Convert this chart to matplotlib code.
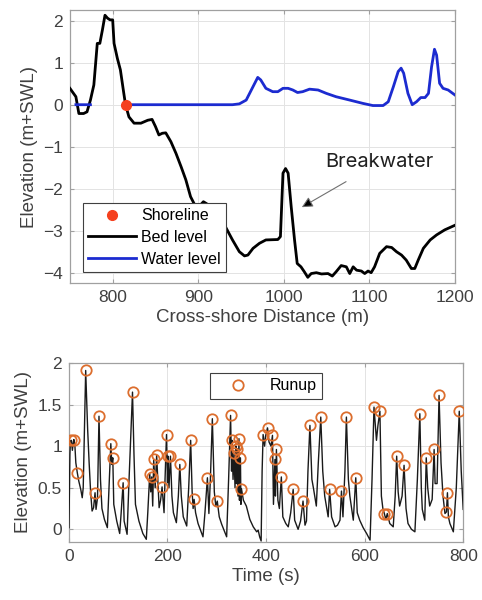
import numpy as np
import matplotlib
matplotlib.use('Agg')
import matplotlib.pyplot as plt

plt.rcParams['font.family'] = ['Liberation Sans', 'DejaVu Sans']

# cross-shore profile (top panel)
bed_x = [750, 757, 760.5, 766, 770, 774, 778, 782, 785, 788, 791, 794, 797, 800,
         801.6, 805.5, 809, 813, 815, 819, 825, 833, 841, 846, 850, 854, 858, 862,
         868, 874, 880, 885.5, 891, 897, 902, 906, 910, 916, 924, 931.6, 940, 948,
         954, 958, 964, 971.5, 979, 993, 996, 999, 1002, 1005, 1008.6, 1012.5,
         1015.6, 1020, 1024, 1028, 1032, 1038, 1044, 1051.6, 1056.6, 1061, 1067,
         1073, 1077, 1081, 1085, 1090.6, 1094.5, 1098.4, 1102, 1106, 1112, 1120,
         1126, 1131.6, 1137.5, 1143, 1149, 1153, 1157, 1163, 1171, 1178.5, 1188, 1200]
bed_y = [0.39, 0.19, -0.21, -0.21, -0.17, 0.11, 0.47, 1.46, 1.46, 1.78, 2.13, 2.06,
         2.02, 2.02, 1.46, 1.10, 0.83, 0.27, 0.0, -0.29, -0.44, -0.44, -0.37, -0.35,
         -0.52, -0.72, -0.68, -0.67, -0.88, -1.16, -1.48, -1.79, -2.19, -2.43, -2.40,
         -2.31, -2.36, -2.55, -2.75, -2.9, -3.22, -3.5, -3.6, -3.58, -3.42, -3.3,
         -3.22, -3.21, -3.14, -1.63, -1.52, -1.63, -2.43, -3.22, -3.78, -3.86, -3.98,
         -4.11, -4.02, -4.0, -4.03, -4.02, -4.08, -3.98, -3.83, -3.86, -4.02, -3.86,
         -3.94, -3.96, -4.02, -3.96, -4.0, -3.86, -3.54, -3.38, -3.40, -3.50, -3.58,
         -3.70, -3.90, -3.90, -3.70, -3.42, -3.22, -3.10, -2.98, -2.87]

wl_x = [757, 774, 774.5, 815, 940, 948, 956, 964, 969.5, 973, 979, 987, 993, 999,
        1005, 1010.5, 1016, 1022, 1030, 1040, 1049.6, 1061, 1077, 1092.6, 1104, 1116,
        1122, 1128, 1133.6, 1137, 1140, 1145, 1150, 1155, 1160, 1165, 1169, 1172.6,
        1176, 1178.5, 1182, 1186, 1192, 1200]
wl_y = [0.0, 0.0, np.nan, 0.0, 0.0, 0.02, 0.11, 0.43, 0.65, 0.59, 0.39, 0.31, 0.31,
        0.39, 0.39, 0.35, 0.29, 0.31, 0.37, 0.35, 0.27, 0.19, 0.11, 0.03, -0.02,
        -0.02, 0.07, 0.43, 0.79, 0.87, 0.75, 0.27, 0.0, 0.07, 0.17, 0.17, 0.27, 0.9,
        1.32, 1.18, 0.51, 0.39, 0.35, 0.23]

shore_x = 815
shore_y = 0.0

# runup time series (bottom panel)
t = [0, 2, 3, 5, 7, 9, 10, 12, 14, 17, 20, 24, 27, 29, 34, 38, 41, 44, 47, 50, 53,
     55, 58, 61, 64, 67, 72, 78, 82, 85, 87, 89, 91, 97, 103, 106, 110, 112, 118,
     122, 129, 132, 135, 142, 150, 157, 160, 164, 166, 168, 170, 172, 175, 178, 183,
     186, 189, 193, 195, 198, 200, 201, 203, 206, 209, 212, 218, 222, 225, 228, 232,
     239, 243, 247, 250, 252, 254, 257, 262, 272, 276, 281, 284, 287, 291, 295, 298,
     301, 305, 310, 320, 324, 328, 330, 331, 333, 335, 337, 339, 340, 341, 343, 345,
     346, 348, 349, 350, 354, 360, 367, 374, 381, 384, 387, 390, 392, 394, 397, 399,
     403, 406, 410, 413, 415, 418, 419, 421, 424, 427, 431, 434, 440, 445, 450, 455,
     458, 465, 470, 475, 479, 482, 485, 489, 493, 496, 502, 506, 511, 515, 519, 526,
     529, 533, 540, 545, 550, 553, 556, 560, 563, 567, 570, 577, 582, 585, 590, 597,
     604, 611, 615, 619, 624, 627, 631, 634, 637, 640, 643, 646, 651, 658, 662, 665,
     668, 671, 676, 680, 684, 688, 695, 702, 707, 712, 715, 717, 722, 725, 728, 732,
     737, 741, 743, 747, 751, 755, 759, 763, 766, 768, 770, 773, 780, 786, 792, 796, 800]
eta = [0.02, 0.9, 1.06, 1.07, 0.95, 1.05, 1.08, 1.02, 0.80, 0.68, 0.58, 0.48, 0.38,
       0.5, 1.91, 1.2, 0.8, 0.45, 0.22, 0.26, 0.44, 0.24, 0.38, 1.36, 0.6, 0.25, 0.12,
       0.02, 0.6, 1.03, 0.78, 0.86, 0.3, 0.1, -0.05, 0.2, 0.56, 0.1, -0.06, 0.6, 1.65,
       0.9, 0.3, 0.1, -0.05, -0.12, 0.2, 0.67, 0.45, 0.63, 0.28, 0.84, 0.5, 0.89, 0.26,
       0.35, 0.51, 0.2, 0.6, 1.14, 0.56, 0.88, 0.5, 0.88, 0.4, 0.2, 0.08, 0.4, 0.78,
       0.4, 0.15, 0.04, 0.5, 1.07, 0.45, 0.25, 0.36, 0.2, 0.07, -0.09, 0.2, 0.62, 0.19,
       0.6, 1.33, 0.45, 0.28, 0.34, 0.15, 0.06, -0.09, 0.6, 1.37, 0.7, 1.07, 0.6, 0.92,
       0.5, 1.0, 0.55, 0.97, 0.4, 1.09, 0.35, 0.86, 0.3, 0.49, 0.35, 0.28, 0.12, 0.03,
       -0.03, -0.01, -0.09, -0.14, 0.7, 1.14, 1.0, 1.12, 1.22, 1.05, 1.0, 1.13, 0.3,
       0.84, 0.4, 0.96, 0.35, 0.25, 0.63, 0.15, 0.07, 0.03, 0.2, 0.48, 0.11, 0.0, 0.1,
       0.34, 0.05, 0.1, 0.7, 1.25, 0.6, 0.5, 0.28, 0.8, 1.35, 0.7, 0.4, 0.15, 0.48,
       0.15, 0.03, 0.05, 0.11, 0.46, 0.15, 0.7, 1.35, 0.6, 0.4, 0.11, 0.62, 0.2, 0.11,
       0.02, -0.05, -0.13, 0.6, 1.47, 1.07, 1.25, 1.42, 0.4, 0.25, 0.19, 0.12, 0.19,
       0.07, 0.03, 0.4, 0.88, 0.45, 0.28, 0.4, 0.77, 0.25, 0.07, 0.0, -0.03, 0.6, 1.39,
       0.5, 0.24, 0.11, 0.86, 0.5, 0.28, 0.36, 0.96, 0.55, 0.55, 1.61, 0.8, 0.4, 0.19,
       0.21, 0.44, 0.15, 0.07, -0.03, 0.5, 1.42, 0.7, 0.24]

runup_t = [4, 10, 17, 34, 53, 61, 85, 89, 110, 129, 164, 168, 172, 178, 189, 198, 201,
           206, 225, 247, 254, 281, 291, 301, 328, 331, 335, 339, 341, 345, 348, 350,
           394, 403, 413, 418, 421, 431, 455, 475, 489, 511, 529, 553, 563, 582, 619,
           631, 640, 646, 665, 680, 712, 725, 741, 751, 768, 766, 792]
runup_y = [1.07, 1.08, 0.68, 1.91, 0.44, 1.36, 1.03, 0.86, 0.56, 1.65, 0.67, 0.63,
           0.84, 0.89, 0.51, 1.14, 0.88, 0.88, 0.78, 1.07, 0.36, 0.62, 1.33, 0.34, 1.37,
           1.07, 0.92, 1.0, 0.97, 1.09, 0.86, 0.49, 1.14, 1.22, 1.13, 0.84, 0.96, 0.63,
           0.48, 0.34, 1.25, 1.35, 0.48, 0.46, 1.35, 0.62, 1.47, 1.42, 0.19, 0.19, 0.88,
           0.77, 1.39, 0.86, 0.96, 1.61, 0.44, 0.21, 1.42]

tick_col = '#404040'
frame_col = '#a0a0a0'


def style_axes(ax):
    ax.grid(True, color='#e3e3e3', linewidth=0.7)
    ax.set_axisbelow(True)
    for s in ax.spines.values():
        s.set_color(frame_col)
        s.set_linewidth(0.9)
    ax.tick_params(direction='in', length=3, colors=frame_col, labelcolor=tick_col,
                   labelsize=12.5, top=True, right=True, pad=5)


fig = plt.figure(figsize=(4.82, 6.0), dpi=100)

ax1 = fig.add_axes([0.145, 0.528, 0.799, 0.455])
ax1.plot(bed_x, bed_y, color='black', linewidth=2, label='Bed level', zorder=3)
ax1.plot(wl_x, wl_y, color='#1c2bd0', linewidth=2, label='Water level', zorder=3)
ax1.plot(shore_x, shore_y, 'o', color='#f5401e', markersize=7, label='Shoreline', zorder=4)
ax1.set_xlim(750, 1200)
ax1.set_ylim(-4.25, 2.25)
ax1.set_xticks([800, 900, 1000, 1100, 1200])
ax1.set_yticks([-4, -3, -2, -1, 0, 1, 2])
style_axes(ax1)
ax1.set_xlabel('Cross-shore Distance (m)', fontsize=13.5, color=tick_col, labelpad=3)
ax1.set_ylabel('Elevation (m+SWL)', fontsize=13.5, color=tick_col, labelpad=4)
h, l = ax1.get_legend_handles_labels()
leg1 = ax1.legend([h[2], h[0], h[1]], [l[2], l[0], l[1]], loc='lower left',
                  bbox_to_anchor=(0.033, 0.04), fontsize=11.5, fancybox=False,
                  edgecolor='#404040', framealpha=1, handlelength=3.0,
                  handletextpad=0.3, labelspacing=0.42, borderpad=0.35,
                  borderaxespad=0)
leg1.get_frame().set_linewidth(0.8)
ax1.annotate('Breakwater', xy=(1021, -2.44), xytext=(1112, -1.37),
             fontsize=14.5, family=['Inter', 'DejaVu Sans'], color='#202020',
             ha='center', va='center',
             arrowprops=dict(arrowstyle='-|>', ec='#707070', fc='black', lw=0.8,
                             shrinkA=11, shrinkB=0, mutation_scale=16))

ax2 = fig.add_axes([0.143, 0.097, 0.818, 0.298])
ax2.plot(t, eta, color='#1a1a1a', linewidth=1.0, zorder=3)
ax2.plot(runup_t, runup_y, 'o', markerfacecolor='none', markeredgecolor='#dc6e2e',
         markersize=7.5, markeredgewidth=1.3, linestyle='none', label='Runup', zorder=4)
ax2.set_xlim(0, 800)
ax2.set_ylim(-0.15, 2.0)
ax2.set_xticks([0, 200, 400, 600, 800])
ax2.set_yticks([0, 0.5, 1, 1.5, 2])
ax2.set_yticklabels(['0', '0.5', '1', '1.5', '2'])
style_axes(ax2)
ax2.set_xlabel('Time (s)', fontsize=13.5, color=tick_col, labelpad=3)
ax2.set_ylabel('Elevation (m+SWL)', fontsize=13.5, color=tick_col, labelpad=4)
leg2 = ax2.legend(loc='upper center', bbox_to_anchor=(0.5, 0.945), fontsize=11.5,
                  fancybox=False, edgecolor='#404040', framealpha=1,
                  handlelength=2.8, handletextpad=0.6, borderpad=0.35,
                  borderaxespad=0)
leg2.get_frame().set_linewidth(0.8)

fig.savefig('out.png', dpi=100)
